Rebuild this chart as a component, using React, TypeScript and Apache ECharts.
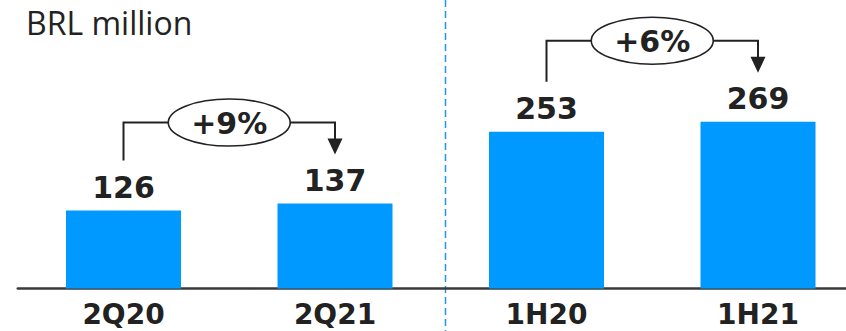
import React, { useEffect, useRef } from "react";
import * as echarts from "echarts";

// Periods and revenue (BRL million)
const categories = ["2Q20", "2Q21", "1H20", "1H21"];
const values = [126, 137, 253, 269];

// Growth annotations: from category index, to category index, label
const growthFrom = [0, 2];
const growthTo = [1, 3];
const growthLabels = ["+9%", "+6%"];

const BAR_COLOR = "#0099FF";
const INK = "#222222";
const BOLD_FONT = "'DejaVu Sans', Verdana, sans-serif";

export default function App() {
  const ref = useRef<HTMLDivElement>(null);

  useEffect(() => {
    if (!ref.current) return;
    const chart = echarts.init(ref.current, undefined, { renderer: "svg" });

    const growthData = growthFrom.map((f, k) => [
      f,
      growthTo[k],
      values[f],
      values[growthTo[k]],
    ]);

    chart.setOption({
      animation: false,
      backgroundColor: "#ffffff",
      title: {
        text: "BRL million",
        left: 21,
        top: 6,
        padding: [0, 5, 0, 5],
        textStyle: {
          fontFamily: "'Open Sans', 'Noto Sans', sans-serif",
          fontWeight: "normal",
          fontSize: 32,
          lineHeight: 32,
          color: INK,
        },
      },
      grid: {
        left: 17.75,
        top: 40.5,
        width: 846,
        height: 248,
        outerBoundsMode: "none",
        containLabel: false,
      },
      xAxis: {
        type: "category",
        data: categories,
        axisLine: { show: true, lineStyle: { color: "#3a3a3a", width: 2.5 } },
        axisTick: { show: false },
        axisLabel: {
          margin: 12,
          fontFamily: BOLD_FONT,
          fontWeight: "bold",
          fontSize: 28,
          lineHeight: 28,
          color: INK,
        },
      },
      yAxis: {
        type: "value",
        min: 0,
        max: 400,
        show: false,
        splitLine: { show: false },
      },
      graphic: [
        {
          type: "line",
          shape: { x1: 445.5, y1: 0, x2: 445.5, y2: 331 },
          style: { stroke: "#1E96F0", lineWidth: 1.5, lineDash: [7, 4] },
          z: 0,
        },
      ],
      series: [
        {
          type: "bar",
          data: values,
          barWidth: 115,
          itemStyle: { color: BAR_COLOR },
          label: {
            show: true,
            position: "top",
            distance: 7,
            fontFamily: BOLD_FONT,
            fontWeight: "bold",
            fontSize: 30,
            lineHeight: 32,
            color: INK,
          },
          z: 2,
        },
        {
          type: "custom",
          data: growthData,
          z: 3,
          silent: true,
          renderItem: (params: any, api: any) => {
            const p1 = api.coord([api.value(0), api.value(2)]);
            const p2 = api.coord([api.value(1), api.value(3)]);
            const top = Math.min(p1[1], p2[1]) - 81;
            const cx = (p1[0] + p2[0]) / 2;
            const rx = 61;
            const ry = 23.5;
            const tipY = p2[1] - 49;
            const headH = 16;
            const headW = 7.5;
            const lineStyle = { stroke: INK, lineWidth: 2, fill: null };
            return {
              type: "group",
              children: [
                {
                  type: "polyline",
                  shape: {
                    points: [
                      [p1[0], p1[1] - 50],
                      [p1[0], top],
                      [cx - rx, top],
                    ],
                  },
                  style: lineStyle,
                },
                {
                  type: "polyline",
                  shape: {
                    points: [
                      [cx + rx, top],
                      [p2[0], top],
                      [p2[0], tipY - headH + 1],
                    ],
                  },
                  style: lineStyle,
                },
                {
                  type: "polygon",
                  shape: {
                    points: [
                      [p2[0] - headW, tipY - headH],
                      [p2[0] + headW, tipY - headH],
                      [p2[0], tipY],
                    ],
                  },
                  style: { fill: INK, stroke: null },
                },
                {
                  type: "ellipse",
                  shape: { cx, cy: top, rx, ry },
                  style: { fill: "#ffffff", stroke: INK, lineWidth: 1.6 },
                },
                {
                  type: "text",
                  style: {
                    text: growthLabels[params.dataIndex],
                    x: cx,
                    y: top + 1,
                    align: "center",
                    verticalAlign: "middle",
                    fontFamily: BOLD_FONT,
                    fontWeight: "bold",
                    fontSize: 30,
                    fill: INK,
                  },
                },
              ],
            };
          },
        },
      ],
    });

    return () => chart.dispose();
  }, []);

  return (
    <div
      ref={ref}
      style={{
        position: "fixed",
        left: 0,
        top: 0,
        width: 846,
        height: 331,
        background: "#ffffff",
      }}
    />
  );
}
